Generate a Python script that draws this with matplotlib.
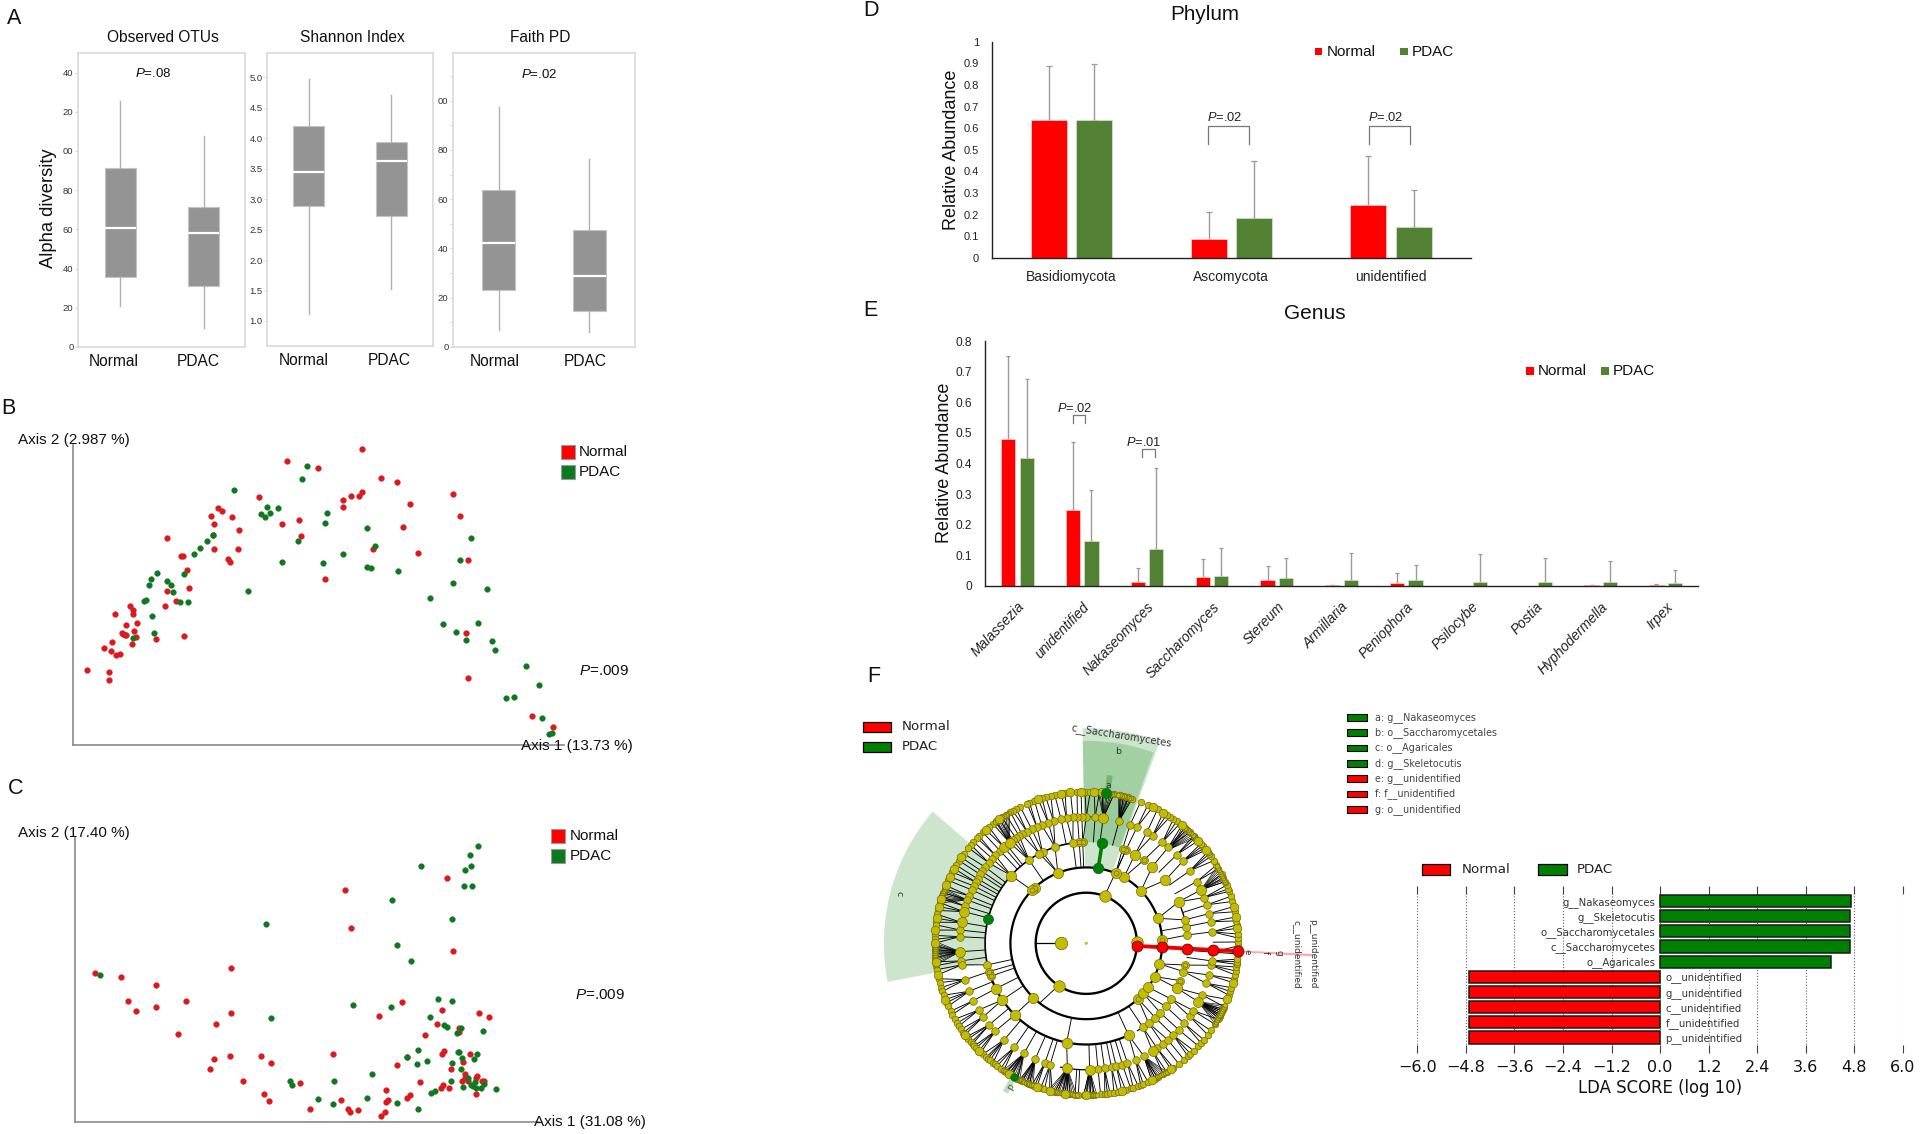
import numpy as np
import matplotlib
matplotlib.use('Agg')
import matplotlib.pyplot as plt
from matplotlib.patches import Rectangle

plt.rcParams['font.family'] = ['Liberation Sans', 'DejaVu Sans']
plt.rcParams['mathtext.fontset'] = 'custom'
plt.rcParams['mathtext.it'] = 'Liberation Sans:italic'
plt.rcParams['mathtext.rm'] = 'Liberation Sans'
NARROW = ['Liberation Sans Narrow', 'Liberation Sans']
DJ = ['DejaVu Sans']

W, H = 1920, 1134
fig = plt.figure(figsize=(W / 100, H / 100), dpi=100, facecolor='white')

RED, XGREEN, SGREEN, FGREEN = '#FF0000', '#548235', '#0B7A1E', '#008000'

# ---------- Panel A values ----------
alpha_titles = ['Observed OTUs', 'Shannon Index', 'Faith PD']
groups = ['Normal', 'PDAC']
otus_stats = [(20.9, 35.7, 60.6, 91.4, 125.4), (9.7, 31.0, 57.9, 71.5, 107.6)]
shannon_stats = [(1.12, 2.88, 3.44, 4.20, 4.97), (1.53, 2.73, 3.63, 3.93, 4.70)]
faith_stats = [(6.8, 23.3, 42.1, 63.6, 97.4), (6.2, 14.5, 29.0, 47.4, 76.4)]
otus_ticks = [0, 20, 40, 60, 80, 100, 120, 140]
otus_ticklabels = ['0', '20', '40', '60', '80', '00', '20', '40']
shannon_ticks = [1.0, 1.5, 2.0, 2.5, 3.0, 3.5, 4.0, 4.5, 5.0]
shannon_ticklabels = ['1.0', '1.5', '2.0', '2.5', '3.0', '3.5', '4.0', '4.5', '5.0']
faith_ticks = [0, 20, 40, 60, 80, 100]
faith_ticklabels = ['0', '20', '40', '60', '80', '00']
faith_minor = [10, 30, 50, 70, 90, 110]

# ---------- Panel B / C values (ordination units) ----------
b_normal = [(859,146),(682,183),(756,203),(905,235),(944,245),(1076,281),(859,277),(854,287),(833,289),(814,300),
 (815,321),(973,312),(1093,347),(615,292),(518,323),(527,333),(501,348),(552,352),(711,359),(670,373),(509,372),
 (958,381),(568,390),(506,405),(716,408),(396,414),(509,446),(566,447),(887,446),(993,459),(431,467),(435,467),
 (541,476),(546,485),(1112,480),(444,511),(772,538),(449,564),(396,573),(418,603),(392,619),(309,617),(315,629),
 (315,641),(274,641),(325,670),(299,676),(318,692),(291,698),(293,703),(296,706),(299,704),(323,711),(370,716),
 (438,708),(265,725),(313,733),(248,743),(263,753),(275,764),(286,761),(206,809),(259,816),(259,840),(1107,700),
 (1111,833),(1264,949),(1315,981)]
b_pdac = [(730,199),(717,238),(556,270),(635,321),(660,323),(776,339),(641,339),(620,343),(629,350),(772,368),
 (873,385),(505,404),(1118,415),(492,423),(476,443),(891,438),(462,462),(708,423),(670,485),(816,461),(768,489),
 (871,500),(881,503),(946,514),(1094,481),(438,521),(373,520),(360,537),(396,544),(353,554),(407,556),(412,577),
 (589,573),(1077,550),(1156,568),(1022,594),(347,600),(343,604),(428,605),(447,605),(362,647),(365,700),(315,714),
 (1052,671),(1083,697),(1136,669),(1108,720),(1170,724),(1176,750),(1249,797),(1281,854),(1221,890),(1203,895),
 (1287,953),(1312,1000),(1305,1003)]
c_normal = [(1062,323),(820,361),(835,474),(1077,543),(550,595),(226,610),(287,621),(370,645),(305,692),(443,692),
 (323,724),(371,710),(550,728),(514,763),(422,792),(955,695),(900,739),(1050,721),(1139,729),(1163,742),(1039,761),
 (1091,775),(1090,786),(1011,796),(1055,842),(1050,853),(1117,851),(791,852),(620,858),(547,858),(509,868),(643,880),
 (500,896),(967,862),(944,884),(1101,875),(1071,897),(578,933),(712,938),(999,937),(1104,913),(1106,925),(1098,934),
 (1112,932),(1130,925),(1133,919),(1145,933),(1151,932),(1053,944),(1047,953),(1066,953),(917,960),(627,972),(639,992),
 (975,974),(967,984),(1130,972),(922,990),(918,997),(810,989),(737,1018),(828,1016),(851,1019),(832,1027),(915,1027),(905,1037)]
c_pdac = [(1136,227),(1117,256),(1001,289),(1119,288),(1105,300),(1102,349),(1121,348),(932,389),(1075,447),(632,463),
 (944,525),(977,572),(237,615),(1041,686),(1073,692),(839,706),(930,712),(645,744),(1022,741),(1054,766),(1061,770),
 (1095,774),(1086,790),(1148,783),(994,840),(1088,846),(1091,847),(1134,853),(967,860),(1098,863),(1126,867),(1014,874),
 (990,882),(1073,880),(1096,898),(884,911),(1071,934),(1112,923),(1128,936),(688,934),(794,932),(695,946),(1120,944),
 (1125,947),(1149,941),(1101,952),(1130,953),(1144,953),(1179,958),(1033,964),(1024,968),(756,988),(871,985),(792,1003),
 (944,1000),(993,1016)]

# ---------- Panel D values ----------
phylum_names = ['Basidiomycota', 'Ascomycota', 'unidentified']
phylum_normal = [0.636, 0.086, 0.246]
phylum_pdac = [0.636, 0.186, 0.142]
phylum_normal_top = [0.887, 0.213, 0.470]
phylum_pdac_top = [0.897, 0.447, 0.313]
phylum_ticks = [0, .1, .2, .3, .4, .5, .6, .7, .8, .9, 1]
phylum_ticklabels = ['0', '0.1', '0.2', '0.3', '0.4', '0.5', '0.6', '0.7', '0.8', '0.9', '1']

# ---------- Panel E values ----------
genus_names = ['Malassezia', 'unidentified', 'Nakaseomyces', 'Saccharomyces', 'Stereum', 'Armillaria',
               'Peniophora', 'Psilocybe', 'Postia', 'Hyphodermella', 'Irpex']
genus_normal = [.481, .247, .011, .028, .0186, .001, .010, 0, 0, .001, .001]
genus_pdac = [.417, .145, .119, .031, .025, .020, .0175, .013, .011, .011, .010]
genus_normal_top = [.752, .470, .057, .086, .063, .003, .040, 0, 0, .003, .0065]
genus_pdac_top = [.675, .314, .385, .122, .091, .106, .068, .103, .091, .082, .053]
genus_ticks = [0, .1, .2, .3, .4, .5, .6, .7, .8]
genus_ticklabels = ['0', '0.1', '0.2', '0.3', '0.4', '0.5', '0.6', '0.7', '0.8']

# ---------- Panel F: LDA values ----------
lda_names = ['g__Nakaseomyces', 'g__Skeletocutis', 'o__Saccharomycetales', 'c__Saccharomycetes', 'o__Agaricales',
             'o__unidentified', 'g__unidentified', 'c__unidentified', 'f__unidentified', 'p__unidentified']
lda_scores = [4.72, 4.70, 4.70, 4.70, 4.21, -4.72, -4.72, -4.72, -4.72, -4.72]
lda_ticks = [-6.0, -4.8, -3.6, -2.4, -1.2, 0.0, 1.2, 2.4, 3.6, 4.8, 6.0]
clade_key = [('a: g__Nakaseomyces', FGREEN), ('b: o__Saccharomycetales', FGREEN), ('c: o__Agaricales', FGREEN),
             ('d: g__Skeletocutis', FGREEN), ('e: g__unidentified', RED), ('f: f__unidentified', RED),
             ('g: o__unidentified', RED)]

# ---------- Panel F: cladogram node angles (degrees), per tree level ----------
level1 = [180]
level2 = [2, 68.8, 236.7]
level2_spokes = [(68.8, 67, 4), (236.7, 232, 3)]
level3 = [2.5, 19.2, 43.9, 60.3, 67.3, 112, 133, 135.7, 225.7, 313, 318.7, 324.6, 334, 344.3]
level4 = [4.7, 9.5, 13.4, 24.2, 38.6, 49.3, 55.3, 61.3, 67, 69, 92, 94, 97.6, 108, 115.6, 117.6, 124.5, 138,
          192.3, 196.2, 199, 206.6, 214, 225, 258.8, 294.7, 304, 308, 312.8, 316.8, 321.6, 326.7, 333.7, 338.4, 343.8, 347.6]
level5 = [5.2, 9.8, 13.6, 17.7, 21.2, 25, 29.2, 35, 40.4, 44.4, 49.5, 53, 58.4, 61.4, 66.4, 69.7, 75, 82.3, 86, 90,
          92, 94, 96, 99, 101.5, 105, 107.5, 110.7, 113, 115.6, 118, 120.6, 122, 123.8, 125.5, 127.3, 129, 130.6, 133,
          136, 138, 140.5, 143, 145.4, 147, 149.3, 151, 153, 155, 158, 160, 163, 165.5, 170.5, 174, 177, 183.8, 188,
          189.8, 196.7, 202.3, 206.9, 211.8, 215.5, 220, 224, 229.6, 235.3, 240.5, 246.2, 250.9, 253.4, 261.4, 271.5,
          275.3, 278.3, 281.5, 283.7, 286.6, 289, 292.9, 297, 301.6, 304, 307.3, 310.2, 313.4, 316.9, 320.7, 324.7,
          327.8, 332.4, 336, 341.6, 345.5, 350, 352, 356]
level6 = [90.5, 92, 93.5, 96, 98, 99.5, 102, 103.5, 105.5, 107, 108.5, 110, 112, 113, 115.8, 117.5, 119, 120, 122, 123.8,
          125, 126.5, 128, 130, 131.5, 133, 135, 136, 138, 139.5, 141, 143.8, 145.5, 147, 149, 150.5, 152, 154, 155.5,
          157.6, 159, 160.5, 162, 163, 164.5, 166, 167.5, 169, 170.5, 172, 173, 175, 177, 178.5, 180,
          181, 182.5, 184, 185.5, 187, 188.5, 190, 192, 193.5, 195, 197, 198.5, 200, 201.8, 203, 204.5, 206.6, 208, 210,
          211.7, 213, 214.5, 216, 217, 218, 219, 220.7, 221.5, 222.5, 223.5, 225, 226, 227, 228.7, 229.5, 230.5, 232,
          232.8, 234, 235.7, 237, 238, 239.4, 240.5, 243, 244, 245, 246.9, 248, 249, 250, 251, 252.5, 254, 256, 257, 258,
          259, 261, 262, 263, 264, 265.7, 267, 269, 270,
          271.6, 273, 275.4, 277, 278, 279, 280.5, 282, 283.5, 285, 287, 288, 290, 291, 292, 294, 295.5, 297, 298, 300.5,
          302, 303.9, 305, 307.5, 310, 312, 313.3, 315, 317.5, 319, 320.6, 323, 325, 327.8, 330, 330.6, 331.4, 332, 332.8,
          333.5, 334.2, 335.3, 338.3, 340, 341.5, 343, 345, 346.5, 348, 349.5, 351, 352, 353, 354, 356, 357,
          358, 359, 0.5, 2, 3.5, 5.7, 7, 8.5, 10, 12, 14, 16, 18, 20, 21, 22.5, 24, 25.4, 27, 29.5, 31, 33, 34.9, 36, 37,
          38, 39, 40, 41, 42.5, 44, 45, 47, 48.5, 49.5, 51, 52, 53.5, 55, 56.5, 58, 59.5, 62, 64, 66, 69, 72.4, 74, 75.7,
          77, 79.5, 84, 85, 87, 88.5]
level6_large = [84, 87, 92, 96, 99.5, 108.5, 125, 131.5, 145.5, 150.5, 154, 157.6, 163, 166, 170.5, 175, 180, 187, 192,
                201.8, 217, 225, 239.4, 251, 256, 262, 270, 283.5, 295.5, 303.9, 338.3, 345, 5.7, 10, 14, 38, 42.5, 51,
                59.5, 64]
level3_small = [67.3, 133, 135.7, 313, 2.5]
level4_small = [55.3, 67, 69, 338.4, 347.6, 92, 94, 199, 196.2]
level4_large = [24.2, 38.6, 49.3, 61.3, 294.7, 333.7, 206.6, 225, 214, 258.8, 138]
level5_large = [25, 82.3, 165.5, 170.5, 183.8, 261.4, 271.5, 332.4, 130.6, 127.3, 301.6]
fan_parents = [183.8, 261.4, 271.5, 240.5, 246.2, 332.4, 297.0, 25.0, 48.3, 82.3, 75.0, 160.0, 127.3]
fan_leaves = [
    [179.2, 180, 180.7, 181.5, 182.2, 183, 183.7, 184.5, 185.2, 186, 186.7, 187.5, 188.2],
    [255.5, 256.3, 257.2, 258, 258.8, 259.7, 260.5, 261.3, 262.2, 263, 263.8, 264.7, 265.5, 266.3],
    [269, 269.7, 270.4, 271.1, 271.8, 272.5, 273.2, 274],
    [236.8, 237.6, 238.4, 239.2, 240, 240.8, 241.6, 242.4, 243.2, 244],
    [244.5, 245.2, 245.9, 246.6, 247.3, 248, 248.7, 249.4],
    [328, 328.8, 329.6, 330.4, 331.2, 332, 332.8, 333.6, 334.4, 335.2, 336],
    [295.5, 296.3, 297.1, 297.9, 298.7, 299.5, 300.3, 301.1, 302],
    [24, 24.8, 25.6, 26.4, 27.2, 28, 28.8, 29.6, 30.4],
    [44, 44.8, 45.6, 46.4, 47.2, 48, 48.8, 49.6, 50.4],
    [79.5, 80.3, 81, 81.8, 82.5, 83.3, 84, 84.8, 85.5],
    [73, 73.7, 74.4, 75.1, 75.8, 76.5, 77.2, 77.9],
    [159, 159.8, 160.6, 161.4, 162.2, 163, 163.8, 164.6],
    [120.5, 121.3, 122.1, 122.9, 123.7, 124.5, 125.3, 126.1, 126.9],
]
ring_arcs = [(2, 0, 360, 1.7), (3, 0, 360, 1.6), (4, 92, 200, 1.2), (4, 200, 295, 1.6), (4, 4, 25, 1.0), (4, 300, 316, .8),
             (5, 258, 275, .9), (5, 86, 100, .8)]


# ---------- helpers ----------
def axpx(l, t, r, b, **kw):
    return fig.add_axes([l / W, 1 - b / H, (r - l) / W, (b - t) / H], **kw)

def tpx(x, y, s, **kw):
    kw.setdefault('va', 'center')
    kw.setdefault('ha', 'left')
    return fig.text(x / W, 1 - y / H, s, **kw)

def rpx(x0, y0, x1, y1, color, ec='none', lw=0.0):
    fig.add_artist(Rectangle((x0 / W, 1 - y1 / H), (x1 - x0) / W, (y1 - y0) / H, transform=fig.transFigure,
                             facecolor=color, edgecolor=ec, linewidth=lw))

PP = r'$\mathit{P}$'

# ---------- Panel A ----------
def box_panel(rect, stats, ylim, ticks, ticklabels, title_x, title, ptext, px, tick_x, minor=None):
    ax = axpx(*rect)
    bs = [dict(whislo=s[0], q1=s[1], med=s[2], q3=s[3], whishi=s[4], fliers=[]) for s in stats]
    ax.bxp(bs, positions=[1, 2], widths=0.37, patch_artist=True, showcaps=False, showfliers=False,
           boxprops=dict(facecolor='#949494', edgecolor='#c4c4c4', linewidth=0.8),
           medianprops=dict(color='white', linewidth=1.6),
           whiskerprops=dict(color='#b0b0b0', linewidth=1.0))
    ax.set_xlim(0.5, 2.5)
    ax.set_ylim(*ylim)
    ax.set_yticks(ticks)
    ax.set_yticklabels(ticklabels, family=NARROW, fontsize=6.8, color='#333333')
    if minor:
        ax.set_yticks(minor, minor=True)
        ax.tick_params(axis='y', which='minor', length=2, width=.5, color='#c8c8c8')
    ax.tick_params(axis='y', length=2, width=.5, color='#c8c8c8', pad=1.5)
    ax.set_xticks(tick_x)
    ax.set_xticklabels(groups, fontsize=11.2, color='#111111')
    ax.tick_params(axis='x', length=0, pad=5)
    for s in ax.spines.values():
        s.set_color('#d6d6d6')
        s.set_linewidth(1.1)
    tpx(title_x, 29 + 9, title, ha='center', fontsize=11.2, color='#111111')
    if ptext:
        ax.text(px[0], px[1], ptext, ha='center', va='center', fontsize=9.6, color='#111111')
    return ax

box_panel((78.3, 53.3, 245.4, 347), [otus_stats[0], otus_stats[1]], (0, 149.8), otus_ticks, otus_ticklabels,
          162.5, alpha_titles[0], PP + '=.08', (1.4, 139.5), [0.92, 1.94])
box_panel((267.3, 52.7, 432.7, 346.3), shannon_stats, (0.585, 5.4), shannon_ticks, shannon_ticklabels,
          352.5, alpha_titles[1], None, None, [0.945, 1.97])
box_panel((453.3, 53.3, 634.7, 347), faith_stats, (0, 119.2), faith_ticks, faith_ticklabels,
          540, alpha_titles[2], PP + '=.02', (1.45, 110.5), [0.955, 1.95], minor=faith_minor)
tpx(48.5, 208, 'Alpha diversity', rotation=90, ha='center', fontsize=13.2, color='#111111')

# ---------- Panels B, C ----------
def pcoa(rect, xlim, ylim, normal, pdac):
    ax = axpx(*rect)
    for pts, c, e in ((normal, '#E8141B', '#B03030'), (pdac, SGREEN, '#2E7A3A')):
        arr = np.array(pts)
        ax.scatter(arr[:, 0], arr[:, 1], s=17, c=c, edgecolors=e, linewidths=.3, zorder=3, clip_on=False)
    ax.set_xlim(*xlim)
    ax.set_ylim(*ylim)
    ax.set_xticks([])
    ax.set_yticks([])
    for k in ('top', 'right'):
        ax.spines[k].set_visible(False)
    for k in ('left', 'bottom'):
        ax.spines[k].set_color('#8a8a8a')
        ax.spines[k].set_linewidth(1.2)
    ax.patch.set_alpha(0)

pcoa((73.2, 445, 564, 745.3), (174, 1340), (1036, 135), b_normal, b_pdac)
pcoa((74.9, 836.7, 538.7, 1121.7), (178, 1280), (1055, 200), c_normal, c_pdac)
TXT = dict(fontsize=11.0, color='#111111')
tpx(17.7, 440, 'Axis 2 (2.987 %)', **TXT)
tpx(521, 745.7, 'Axis 1 (13.73 %)', **TXT)
tpx(579, 670.7, PP + '=.009', **TXT)
tpx(17.7, 833.3, 'Axis 2 (17.40 %)', **TXT)
tpx(534.5, 1121.7, 'Axis 1 (31.08 %)', **TXT)
tpx(575, 995, PP + '=.009', **TXT)
rpx(560.6, 445, 574.5, 458.7, RED, '#999999', .8)
rpx(560.6, 465.3, 574.5, 479.3, SGREEN, '#999999', .8)
tpx(579, 451.7, 'Normal', **TXT)
tpx(579, 471.7, 'PDAC', **TXT)
rpx(551.3, 828.7, 565.3, 842.7, RED, '#999999', .8)
rpx(551.3, 849.3, 565.3, 863.3, SGREEN, '#999999', .8)
tpx(569.4, 835.7, 'Normal', **TXT)
tpx(569.4, 855.7, 'PDAC', **TXT)

# ---------- Panels D, E ----------
def grouped(rect, names, n, p, nt, pt, ticks, ticklabels, ylim, xlim, width, off, capsize):
    ax = axpx(*rect)
    x = np.arange(len(names))
    ax.bar(x - off, n, width, color=RED, edgecolor='#ffd0d0', linewidth=.5, zorder=2)
    ax.bar(x + off, p, width, color=XGREEN, edgecolor='#d8e4d0', linewidth=.5, zorder=2)
    for pos, v, top in ((x - off, n, nt), (x + off, p, pt)):
        for xi, vi, ti in zip(pos, v, top):
            if ti > vi:
                ax.errorbar([xi], [vi], yerr=[[0], [ti - vi]], color='#9a9a9a', elinewidth=1.0,
                            capsize=capsize, capthick=.9, zorder=1)
    ax.set_xlim(*xlim)
    ax.set_ylim(*ylim)
    ax.set_yticks(ticks)
    ax.set_xticks(x)
    ax.tick_params(length=0)
    for k in ('top', 'right'):
        ax.spines[k].set_visible(False)
    for k in ('left', 'bottom'):
        ax.spines[k].set_color('#222222')
        ax.spines[k].set_linewidth(1.0)
    ax.set_yticklabels(ticklabels, color='#222222')
    ax.patch.set_alpha(0)
    return ax

def bracket(ax, x0, x1, y0, y1):
    ax.plot([x0, x0, x1, x1], [y0, y1, y1, y0], color='#777777', lw=.9, zorder=3)

axd = grouped((991.6, 41.7, 1471, 258), phylum_names, phylum_normal, phylum_pdac, phylum_normal_top, phylum_pdac_top,
              phylum_ticks, phylum_ticklabels, (0, 1), (-0.5, 2.5), 0.225, 0.1423, 2)
axd.tick_params(axis='y', labelsize=8, pad=9)
axd.set_xticklabels(phylum_names, fontsize=10, color='#222222')
axd.tick_params(axis='x', pad=9)
for xc in (0.852, 1.86):
    bracket(axd, xc, xc + 0.256, 0.528, 0.612)
    axd.text(xc + 0.105, 0.649, PP + '=.02', ha='center', va='center', fontsize=9.3, color='#222222')
tpx(951.4, 150, 'Relative Abundance', rotation=90, ha='center', fontsize=13, color='#111111')
tpx(1204.3, 14, 'Phylum', ha='center', fontsize=14.9, color='#111111')
rpx(1314.6, 47.7, 1322.2, 55, RED)
rpx(1399.5, 47.7, 1407.6, 55, XGREEN)
tpx(1326.4, 51.7, 'Normal', **TXT)
tpx(1411.4, 51.7, 'PDAC', **TXT)

axe = grouped((984.8, 341.3, 1698, 585.7), genus_names, genus_normal, genus_pdac, genus_normal_top, genus_pdac_top,
              genus_ticks, genus_ticklabels, (0, 0.8), (-0.504, 10.5), 0.22, 0.142, 1.6)
axe.tick_params(axis='y', labelsize=8.6, pad=9)
axe.set_xticklabels(genus_names, fontsize=10, style='italic', rotation=46, ha='right', va='top',
                    rotation_mode='anchor', color='#222222')
axe.tick_params(axis='x', pad=10)
bracket(axe, 0.85, 1.04, 0.532, 0.558)
axe.text(0.882, 0.58, PP + '=.02', ha='center', va='center', fontsize=9.3, color='#222222')
bracket(axe, 1.92, 2.118, 0.42, 0.4465)
axe.text(1.945, 0.468, PP + '=.01', ha='center', va='center', fontsize=9.3, color='#222222')
tpx(944.5, 463.3, 'Relative Abundance', rotation=90, ha='center', fontsize=13, color='#111111')
tpx(1315, 313.3, 'Genus', ha='center', fontsize=15, color='#111111')
rpx(1525.6, 366.7, 1533.6, 374.7, RED)
rpx(1601, 366.7, 1609.4, 374.7, XGREEN)
tpx(1537.3, 370.7, 'Normal', **TXT)
tpx(1612.9, 370.7, 'PDAC', **TXT)

# ---------- Panel F: cladogram ----------
cx, cy, rpx_unit = 1086.3, 943.3, 25.3
rmax = 9.0
half = rmax * rpx_unit
axc = axpx(cx - half, cy - half, cx + half, cy + half, projection='polar')
axc.set_ylim(0, rmax)
axc.set_axis_off()
axc.patch.set_alpha(0)

def wedge(t0, t1, r0, r1, color, alpha):
    axc.bar(np.radians((t0 + t1) / 2), r1 - r0, width=np.radians(t1 - t0), bottom=r0, color=color, alpha=alpha,
            linewidth=0, zorder=1)

wedge(139.4, 191, 4, 8, FGREEN, .2)
wedge(70, 91, 3, 8.5, FGREEN, .2)
wedge(70.6, 91, 4, 8, FGREEN, .2)
wedge(70.6, 91, 4, 6, FGREEN, .05)
wedge(81, 83, 6, 6.7, FGREEN, .3)
wedge(240.5, 242.5, 6, 6.7, FGREEN, .25)
wedge(-3.3, -2.7, 6, 9, RED, .35)

for r, a0, a1, lw in ring_arcs:
    th = np.radians(np.linspace(a0, a1, 181))
    axc.plot(th, np.full(th.shape, r), color='black', lw=lw, zorder=2, solid_capstyle='butt')

def adiff(a, b):
    return abs((a - b + 180) % 360 - 180)

def nearest(a, parents):
    return min(parents, key=lambda p: adiff(a, p))

def edges(children, rc, parents, rp, reach, lw=.65):
    for a in children:
        p = nearest(a, parents)
        end = p if adiff(a, p) <= reach else a
        axc.plot(np.radians([a, end]), [rc, rp], color='black', lw=lw, zorder=2, solid_capstyle='butt')

edges(level6, 6, level5, 5, 4.0)
edges(level5, 5, level4, 4, 3.0)
edges(level4, 4, level3 + [81], 3, 6.0)
for a0, a1, r1 in level2_spokes:
    axc.plot(np.radians([a0, a1]), [2, r1], color='black', lw=.65, zorder=2)
axc.plot(np.radians([180, 180]), [1, 2], color='black', lw=.9, zorder=2)
for par, kids in zip(fan_parents, fan_leaves):
    for k in kids:
        axc.plot(np.radians([par, k]), [5, 6], color='black', lw=.45, zorder=2)

Y, YE = '#C4BC00', '#6F6B10'

def nodes(angles, r, d, color=Y, ec=YE, z=4, lw=.5):
    a = np.radians(angles)
    axc.scatter(a, np.full(len(angles), r), s=(d * .72) ** 2, c=color, edgecolors=ec, linewidths=lw, zorder=z)

nodes(level6, 6, 6.6, z=4)
nodes(level6_large, 6, 8.6, z=4.1)
for kids in fan_leaves:
    nodes(kids, 6, 4.8, z=4.05)
nodes(level5, 5, 7.6, z=4)
nodes(level5_large, 5, 10, z=4.1)
nodes(level4, 4, 8.0)
nodes(level4_small, 4, 4.8, z=4.1)
nodes(level4_large, 4, 10.5, z=4.1)
nodes(level3, 3, 10.2)
nodes(level3_small, 3, 5.0, z=4.1)
nodes(level2, 2, 11.5)
nodes(level1, 1, 12.5)
axc.scatter([0], [0], s=5, c=Y, edgecolors='none', zorder=4)

axc.plot(np.radians([81, 81]), [3, 4], color=FGREEN, lw=2.6, zorder=3)
axc.plot(np.radians([-3, -3, -3, -3, -3]), [2, 3, 4, 5, 6], color=RED, lw=2.8, zorder=3)
axc.plot(np.radians([-3, -3, -3, -3, -3]), [2, 3, 4, 5, 6], color='#770000', lw=.3, zorder=3)
nodes([81], 3, 10.5, color=FGREEN, ec='#063', z=5)
nodes([81], 4, 10.5, color=FGREEN, ec='#063', z=5)
nodes([82.5], 6, 10, color=FGREEN, ec='#063', z=5)
nodes([166], 4, 10, color=FGREEN, ec='#063', z=5)
nodes([241.5], 6, 7.5, color=FGREEN, ec='#063', z=5)
for r in (2, 3, 4, 5, 6):
    nodes([-3], r, 11, color=RED, ec='#500', z=5)

DT = dict(family=DJ, color='#333333')
tpx(1121, 736, 'c__Saccharomycetes', ha='center', rotation=-9, fontsize=7, **DT)
tpx(1118.2, 751.7, 'b', ha='center', fontsize=6.8, **DT)
tpx(1107.9, 785, 'a', ha='center', fontsize=6.5, **DT)
tpx(898.9, 893.3, 'c', ha='center', rotation=-90, fontsize=6.8, **DT)
tpx(1009.6, 1085.7, 'd', ha='center', rotation=240, fontsize=6.8, color='#3a5a3a', family=DJ)
tpx(1313, 954, 'p__unidentified', ha='center', rotation=-90, fontsize=6.5, **DT)
tpx(1296.4, 954, 'c__unidentified', ha='center', rotation=-90, fontsize=6.5, **DT)
for x, y, s in ((1246.8, 952, 'e'), (1265, 952.7, 'f'), (1279.3, 953.3, 'g')):
    tpx(x, y, s, ha='center', rotation=-90, fontsize=6.3, **DT)

rpx(863, 721.7, 890.7, 732, RED, 'black', .9)
rpx(863, 741.7, 890.7, 751.7, FGREEN, 'black', .9)
tpx(901.8, 726.7, 'Normal', family=DJ, fontsize=9.6, color='#222222')
tpx(901.8, 746.7, 'PDAC', family=DJ, fontsize=9.6, color='#222222')

for (label, col), yc in zip(clade_key, [717.3, 732.7, 748, 763.3, 778.7, 794, 809.3]):
    rpx(1347.4, yc - 3.4, 1367.4, yc + 3.4, col, 'black', .8)
    tpx(1374.8, yc, label, family=DJ, fontsize=6.9, color='#444444')

# ---------- Panel F: LDA bars ----------
axl = axpx(1417.3, 885.7, 1903, 1052.7)
pos = np.arange(len(lda_scores), 0, -1)
for yy, v, name in zip(pos, lda_scores, lda_names):
    axl.barh(yy, v, height=0.8, color=FGREEN if v > 0 else RED, edgecolor='#1a1a1a', linewidth=1.1, zorder=3)
    if v > 0:
        axl.text(-0.12, yy - .08, name, ha='right', va='center', family=DJ, fontsize=7.3, color='#333333', zorder=4)
    else:
        axl.text(0.13, yy - .08, name, ha='left', va='center', family=DJ, fontsize=7.3, color='#333333', zorder=4)
axl.set_xlim(-6, 6)
axl.set_ylim(0, 11)
axl.set_yticks([])
axl.set_xticks(lda_ticks)
axl.set_xticklabels([f'{t:.1f}'.replace('-', '\u2212') for t in lda_ticks], family=DJ, fontsize=11.5, color='#111111')
axl.tick_params(axis='x', direction='in', top=True, length=6, width=.8, color='#444444', pad=5)
axl.grid(axis='x', linestyle=':', color='#666666', linewidth=.8, zorder=0)
for s in axl.spines.values():
    s.set_visible(False)
axl.patch.set_alpha(0)
tpx(1660, 1088, 'LDA SCORE (log 10)', ha='center', family=DJ, fontsize=11.9, color='#111111')
rpx(1421.8, 864.3, 1450.3, 874.7, RED, 'black', .9)
rpx(1538.3, 864.3, 1566.8, 874.7, FGREEN, 'black', .9)
tpx(1462, 869.3, 'Normal', family=DJ, fontsize=9.6, color='#222222')
tpx(1577, 869.3, 'PDAC', family=DJ, fontsize=9.6, color='#222222')

# ---------- Panel letters ----------
for x, y, s in ((7, 18, 'A'), (1, 408, 'B'), (7.6, 788, 'C'), (863, 10, 'D'), (863, 310, 'E'), (867, 676, 'F')):
    tpx(x, y, s, fontsize=15.5, color='#111111')

fig.savefig('out.png', dpi=100, facecolor='white')
